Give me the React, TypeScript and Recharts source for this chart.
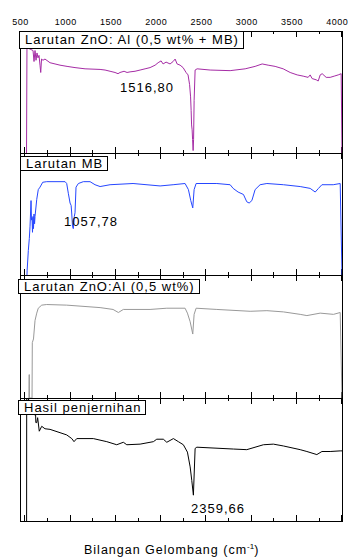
import { LineChart, Line, XAxis, YAxis, ReferenceArea, ReferenceLine } from 'recharts';

// wavenumber range of the frames (cm-1)
const X_MIN = 445;
const X_MAX = 4003;

const LABEL_TICKS = [500, 1000, 1500, 2000, 2500, 3000, 3500, 4000];
const MINOR_TICKS = [750, 1250, 1750, 2250, 2750, 3250, 3750];

// [wavenumber, relative transmittance 0..100]
const ZNO_AL_MB = [
  [517, 0], [522, 89], [533, 86], [589, 84], [600, 75], [611, 84], [622, 76], [633, 82], [644, 78],
  [655, 80], [666, 72], [674, 66], [683, 77], [699, 76], [721, 77], [777, 74], [832, 73], [887, 72],
  [965, 71], [1053, 70], [1164, 69], [1330, 68.5], [1385, 68], [1440, 67], [1495, 66], [1528, 65],
  [1550, 66], [1595, 67], [1628, 66], [1661, 66.5], [1716, 67], [1772, 68], [1827, 69], [1882, 70],
  [1938, 72], [1971, 74], [2004, 75.5], [2026, 73], [2059, 74.5], [2103, 73], [2137, 75], [2159, 77],
  [2181, 73], [2214, 72], [2247, 70], [2280, 66], [2302, 64], [2319, 56], [2330, 46], [2336, 35],
  [2341, 23], [2347, 19], [2352, 11], [2358, 2], [2363, 11], [2369, 43], [2380, 68], [2402, 69],
  [2546, 68], [2767, 67.5], [2933, 69], [3043, 71], [3121, 73], [3187, 72], [3264, 71], [3353, 69],
  [3430, 66], [3508, 64], [3574, 63], [3629, 62], [3651, 64], [3673, 61], [3718, 60], [3740, 59],
  [3762, 64], [3784, 65], [3828, 62], [3872, 62], [3917, 63], [3961, 64], [3994, 65], [4003, 0],
];

const MB = [
  [522, 0], [524, 4], [537, 20], [548, 30], [556, 40], [567, 61], [572, 45], [578, 47], [583, 35],
  [589, 48], [594, 38], [600, 50], [606, 42], [611, 48], [630, 62], [647, 70], [666, 72], [696, 76],
  [740, 76.5], [943, 76.5], [961, 75], [979, 67], [998, 59], [1010, 57], [1017, 50], [1025, 40],
  [1034, 38], [1045, 48], [1053, 51], [1064, 72], [1090, 75], [1145, 76.5], [1219, 76.5], [1274, 74],
  [1330, 72.5], [1440, 74], [1694, 75], [1993, 73], [2137, 74], [2269, 75], [2306, 70], [2332, 61],
  [2354, 55], [2369, 70], [2391, 75], [2620, 75], [2767, 74], [2800, 71], [2855, 68], [2914, 66],
  [2951, 60], [2977, 59], [3007, 61], [3043, 70], [3098, 74], [3173, 75], [3356, 74], [3541, 72.5],
  [3651, 71], [3707, 68], [3743, 71], [3781, 74], [3906, 74], [3983, 75], [4003, 0],
];

const ZNO_AL = [
  [544, 0], [546, 19], [548, 19], [549, 0], [578, 0], [581, 45], [594, 48], [611, 63], [630, 69],
  [647, 73], [685, 75.5], [740, 76], [961, 75.5], [1330, 73.5], [1473, 72], [1532, 69.5], [1587, 72],
  [1882, 72], [2067, 73], [2269, 73], [2295, 69], [2325, 62], [2354, 52], [2369, 68], [2391, 73],
  [2620, 72], [2988, 70.5], [3173, 71], [3356, 70], [3541, 68], [3615, 67], [3762, 69], [3909, 68],
  [3983, 69.5], [4003, 0],
];

const HASIL = [
  [518, 0], [519, 100], [600, 95], [611, 86], [615, 92], [620, 80], [630, 80], [640, 84], [658, 73],
  [685, 77], [721, 75], [777, 74.5], [961, 70], [1017, 67], [1042, 64.5], [1072, 67], [1255, 67],
  [1404, 64.5], [1514, 62], [1587, 64], [1625, 62], [1772, 62.5], [1919, 64.5], [1956, 66.5],
  [2029, 66.5], [2067, 64], [2140, 67], [2195, 64.5], [2250, 62], [2295, 56], [2325, 44], [2343, 33],
  [2361, 21], [2380, 59], [2399, 60], [2803, 58.5], [2951, 58], [3135, 62], [3245, 62.5], [3356, 61],
  [3541, 58], [3615, 56.5], [3725, 54], [3781, 56.5], [3872, 56.5], [3983, 57], [4003, 57],
];

const FONT = '"Liberation Sans", Arial, sans-serif';

const toPoints = (arr: number[][]) => arr.map(([x, y]) => ({ x, y }));

const TopTick = (props: any) => {
  const { x, y, payload } = props;
  return (
    <text x={x - 4.5} y={y} textAnchor="middle" fontSize={9} fill="#000" fontFamily={FONT} letterSpacing={0.5}>
      {payload.value}
    </text>
  );
};

interface PanelProps {
  data: number[][];
  color: string;
  top: number;
  height: number;
  showTop?: boolean;
}

function Panel({ data, color, top, height, showTop }: PanelProps) {
  const axisH = showTop ? 30 : 0;
  const major = (6 / height) * 100;
  const minor = (3 / height) * 100;
  return (
    <div style={{ position: 'absolute', left: 0, top: top - 1 - axisH }}>
      <LineChart
        width={353}
        height={height + 2 + axisH}
        data={toPoints(data)}
        margin={{ top: 1, right: 11, bottom: 1, left: 20 }}
      >
        <XAxis
          type="number"
          dataKey="x"
          domain={[X_MIN, X_MAX]}
          allowDataOverflow
          orientation="top"
          hide={!showTop}
          height={axisH}
          ticks={LABEL_TICKS}
          interval={0}
          axisLine={false}
          tickLine={false}
          tickSize={0}
          tickMargin={6}
          tick={<TopTick />}
        />
        <YAxis type="number" domain={[0, 100]} hide allowDataOverflow />
        <ReferenceArea
          x1={X_MIN}
          x2={X_MAX}
          y1={0}
          y2={100}
          fill="none"
          stroke="#000"
          strokeWidth={1}
          shapeRendering="crispEdges"
        />
        {LABEL_TICKS.map((t) => (
          <ReferenceLine key={'tM' + t} segment={[{ x: t, y: 100 }, { x: t, y: 100 - major }]} stroke="#000" shapeRendering="crispEdges" />
        ))}
        {MINOR_TICKS.map((t) => (
          <ReferenceLine key={'tm' + t} segment={[{ x: t, y: 100 }, { x: t, y: 100 - minor }]} stroke="#000" shapeRendering="crispEdges" />
        ))}
        {LABEL_TICKS.map((t) => (
          <ReferenceLine key={'bM' + t} segment={[{ x: t, y: 0 }, { x: t, y: major }]} stroke="#000" shapeRendering="crispEdges" />
        ))}
        {MINOR_TICKS.map((t) => (
          <ReferenceLine key={'bm' + t} segment={[{ x: t, y: 0 }, { x: t, y: minor }]} stroke="#000" shapeRendering="crispEdges" />
        ))}
        <Line
          type="linear"
          dataKey="y"
          stroke={color}
          strokeWidth={1}
          dot={false}
          activeDot={false}
          isAnimationActive={false}
        />
      </LineChart>
    </div>
  );
}

const boxStyle = (left: number, top: number, h: number): React.CSSProperties => ({
  position: 'absolute',
  left,
  top,
  height: h,
  lineHeight: h + 'px',
  border: '1px solid #000',
  background: '#fff',
  padding: '0 4px 0 5px',
  fontSize: 13,
  letterSpacing: 1,
  whiteSpace: 'nowrap',
  color: '#000',
});

const noteStyle = (left: number, top: number): React.CSSProperties => ({
  position: 'absolute',
  left,
  top,
  fontSize: 13,
  lineHeight: '13px',
  letterSpacing: 1,
  color: '#000',
  whiteSpace: 'nowrap',
});

export default function App() {
  return (
    <div
      style={{
        position: 'absolute',
        left: 0,
        top: 0,
        width: 353,
        height: 560,
        background: '#fff',
        fontFamily: FONT,
      }}
    >
      <Panel data={ZNO_AL_MB} color="#a52ca5" top={31} height={122} showTop />
      <Panel data={MB} color="#2546ff" top={153} height={122} />
      <Panel data={ZNO_AL} color="#999999" top={275} height={123} />
      <Panel data={HASIL} color="#000000" top={398} height={123} />

      <div style={boxStyle(19, 31, 16)}>Larutan ZnO: Al (0,5 wt% + MB)</div>
      <div style={boxStyle(20, 156, 13)}>Larutan MB</div>
      <div style={boxStyle(18, 279, 13)}>Larutan ZnO:Al (0,5 wt%)</div>
      <div style={boxStyle(18, 400, 13)}>Hasil penjernihan</div>

      <div style={noteStyle(120, 81)}>1516,80</div>
      <div style={noteStyle(64, 215)}>1057,78</div>
      <div style={noteStyle(191, 502)}>2359,66</div>

      <div
        style={{
          position: 'absolute',
          left: 84,
          top: 539,
          fontSize: 12.5,
          lineHeight: '15px',
          letterSpacing: 1,
          whiteSpace: 'nowrap',
          color: '#000',
        }}
      >
        Bilangan Gelombang (cm
        <span style={{ fontSize: 8, verticalAlign: 5, letterSpacing: 0 }}>-1</span>)
      </div>
    </div>
  );
}
